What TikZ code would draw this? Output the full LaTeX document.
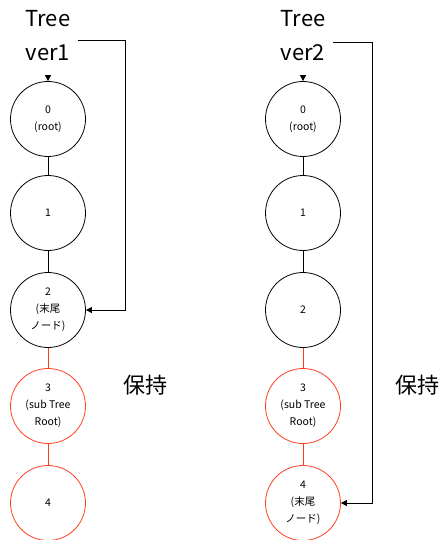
\documentclass[tikz,border=0pt]{standalone}
\usepackage{fontspec}
\setmainfont{Noto Sans CJK JP}
\usetikzlibrary{arrows.meta}
\definecolor{tred}{RGB}{255,61,31}
\begin{document}
\begin{tikzpicture}[x=1pt,y=-1pt,
  circ/.style={circle,draw,line width=0.8pt,minimum size=75pt,inner sep=0pt,align=center,
    font=\fontsize{10.5}{17}\selectfont},
  rcirc/.style={circ,draw=tred},
  title/.style={align=center,font=\fontsize{22}{34}\selectfont},
  side/.style={font=\fontsize{22}{26}\selectfont},
  edge/.style={line width=0.8pt},
  redge/.style={edge,draw=tred},
  ptr/.style={line width=0.8pt,-{Triangle[length=6pt,width=6pt]}}]
\useasboundingbox (0,0) rectangle (439,540);
% left tree
\node[title] (t1) at (48,36) {Tree\\ver1};
\node[circ] (a0) at (48,119) {0\\(root)};
\node[circ] (a1) at (48,213) {1};
\node[circ] (a2) at (48,310) {2\\(末尾\\ノード)};
\node[rcirc] (a3) at (48,406) {3\\(sub Tree\\Root)};
\node[rcirc] (a4) at (48,503) {4};
\draw[edge] (a0) -- (a1);
\draw[edge] (a1) -- (a2);
\draw[redge] (a2) -- (a3);
\draw[redge] (a3) -- (a4);
\coordinate (p1) at (48,76);
\draw[ptr] (p1) -- (a0);
\coordinate (s1) at (78,40);
\coordinate (k1) at (125,40);
\draw[ptr] (s1) -- (k1) |- (a2);
\node[side] (h1) at (145,385) {保持};
% right tree
\node[title] (t2) at (303,36) {Tree\\ver2};
\node[circ] (b0) at (303,119) {0\\(root)};
\node[circ] (b1) at (303,213) {1};
\node[circ] (b2) at (303,310) {2};
\node[rcirc] (b3) at (303,406) {3\\(sub Tree\\Root)};
\node[rcirc] (b4) at (303,503) {4\\(末尾\\ノード)};
\draw[edge] (b0) -- (b1);
\draw[edge] (b1) -- (b2);
\draw[redge] (b2) -- (b3);
\draw[redge] (b3) -- (b4);
\coordinate (p2) at (303,76);
\draw[ptr] (p2) -- (b0);
\coordinate (s2) at (333,42);
\coordinate (k2) at (372,42);
\draw[ptr] (s2) -- (k2) |- (b4);
\node[side] (h2) at (417,385) {保持};
\end{tikzpicture}
\end{document}
